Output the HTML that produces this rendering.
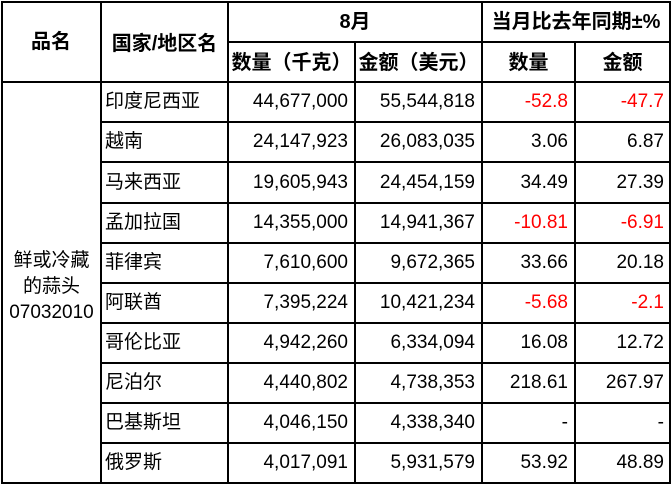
<!DOCTYPE html>
<html><head><meta charset="utf-8"><style>
html,body{margin:0;padding:0;background:#fff;}
#c{position:relative;width:672px;height:487px;overflow:hidden;font-family:"Liberation Sans","Noto Sans CJK SC",sans-serif;font-size:19px;color:#000;}
.h{position:absolute;height:2px;background:#000;}
.v{position:absolute;width:2px;background:#000;}
.t{position:absolute;line-height:20px;white-space:nowrap;}
.b{font-weight:bold;font-size:20px;}
.r{color:#f00;}
</style></head><body><div id="c">
<div class="h" style="left:1px;top:1px;width:670px"></div>
<div class="h" style="left:228px;top:41px;width:443px"></div>
<div class="h" style="left:1px;top:81px;width:670px"></div>
<div class="h" style="left:101px;top:121px;width:570px"></div>
<div class="h" style="left:101px;top:161px;width:570px"></div>
<div class="h" style="left:101px;top:202px;width:570px"></div>
<div class="h" style="left:101px;top:242px;width:570px"></div>
<div class="h" style="left:101px;top:282px;width:570px"></div>
<div class="h" style="left:101px;top:322px;width:570px"></div>
<div class="h" style="left:101px;top:362px;width:570px"></div>
<div class="h" style="left:101px;top:402px;width:570px"></div>
<div class="h" style="left:101px;top:442px;width:570px"></div>
<div class="h" style="left:1px;top:482px;width:670px"></div>
<div class="v" style="left:1px;top:1px;height:483px"></div>
<div class="v" style="left:100px;top:1px;height:483px"></div>
<div class="v" style="left:227px;top:1px;height:483px"></div>
<div class="v" style="left:354px;top:41px;height:443px"></div>
<div class="v" style="left:481px;top:1px;height:483px"></div>
<div class="v" style="left:574px;top:41px;height:443px"></div>
<div class="v" style="left:669px;top:1px;height:483px"></div>
<div class="t b" style="left:2px;width:98px;top:32px;text-align:center">品名</div>
<div class="t b" style="left:102px;width:125px;top:34px;text-align:center">国家/地区名</div>
<div class="t b" style="left:229px;width:252px;top:12px;text-align:center">8月</div>
<div class="t b" style="left:483px;width:186px;top:12px;text-align:center">当月比去年同期±%</div>
<div class="t b" style="left:229px;width:125px;top:53px;text-align:center">数量（千克）</div>
<div class="t b" style="left:356px;width:125px;top:53px;text-align:center">金额（美元）</div>
<div class="t b" style="left:483px;width:91px;top:53px;text-align:center">数量</div>
<div class="t b" style="left:576px;width:93px;top:53px;text-align:center">金额</div>
<div class="t" style="left:3px;width:97px;top:248px;line-height:26px;text-align:center;white-space:normal">鲜或冷藏<br>的蒜头<br>07032010</div>
<div class="t" style="left:105px;top:92px">印度尼西亚</div><div class="t" style="right:324px;top:92px">44,677,000</div><div class="t" style="right:197px;top:92px">55,544,818</div><div class="t r" style="right:104px;top:92px">-52.8</div><div class="t r" style="right:8px;top:92px">-47.7</div>
<div class="t" style="left:105px;top:132px">越南</div><div class="t" style="right:324px;top:132px">24,147,923</div><div class="t" style="right:197px;top:132px">26,083,035</div><div class="t" style="right:104px;top:132px">3.06</div><div class="t" style="right:8px;top:132px">6.87</div>
<div class="t" style="left:105px;top:173px">马来西亚</div><div class="t" style="right:324px;top:173px">19,605,943</div><div class="t" style="right:197px;top:173px">24,454,159</div><div class="t" style="right:104px;top:173px">34.49</div><div class="t" style="right:8px;top:173px">27.39</div>
<div class="t" style="left:105px;top:213px">孟加拉国</div><div class="t" style="right:324px;top:213px">14,355,000</div><div class="t" style="right:197px;top:213px">14,941,367</div><div class="t r" style="right:104px;top:213px">-10.81</div><div class="t r" style="right:8px;top:213px">-6.91</div>
<div class="t" style="left:105px;top:253px">菲律宾</div><div class="t" style="right:324px;top:253px">7,610,600</div><div class="t" style="right:197px;top:253px">9,672,365</div><div class="t" style="right:104px;top:253px">33.66</div><div class="t" style="right:8px;top:253px">20.18</div>
<div class="t" style="left:105px;top:293px">阿联酋</div><div class="t" style="right:324px;top:293px">7,395,224</div><div class="t" style="right:197px;top:293px">10,421,234</div><div class="t r" style="right:104px;top:293px">-5.68</div><div class="t r" style="right:8px;top:293px">-2.1</div>
<div class="t" style="left:105px;top:333px">哥伦比亚</div><div class="t" style="right:324px;top:333px">4,942,260</div><div class="t" style="right:197px;top:333px">6,334,094</div><div class="t" style="right:104px;top:333px">16.08</div><div class="t" style="right:8px;top:333px">12.72</div>
<div class="t" style="left:105px;top:373px">尼泊尔</div><div class="t" style="right:324px;top:373px">4,440,802</div><div class="t" style="right:197px;top:373px">4,738,353</div><div class="t" style="right:104px;top:373px">218.61</div><div class="t" style="right:8px;top:373px">267.97</div>
<div class="t" style="left:105px;top:413px">巴基斯坦</div><div class="t" style="right:324px;top:413px">4,046,150</div><div class="t" style="right:197px;top:413px">4,338,340</div><div class="t" style="right:104px;top:413px">-</div><div class="t" style="right:8px;top:413px">-</div>
<div class="t" style="left:105px;top:453px">俄罗斯</div><div class="t" style="right:324px;top:453px">4,017,091</div><div class="t" style="right:197px;top:453px">5,931,579</div><div class="t" style="right:104px;top:453px">53.92</div><div class="t" style="right:8px;top:453px">48.89</div>
</div></body></html>
